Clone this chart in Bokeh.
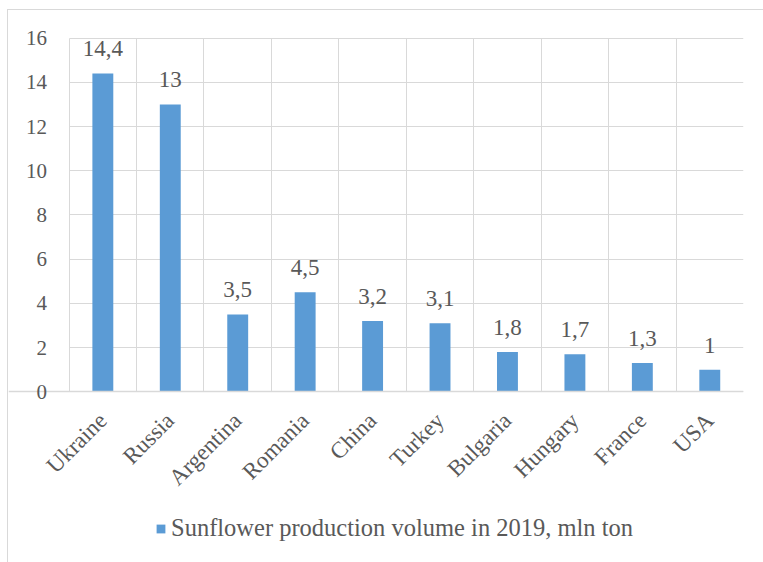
from bokeh.plotting import figure
from bokeh.models import (ColumnDataSource, Range1d, FixedTicker, Legend, LegendItem,
                          LabelSet, LinearAxis)
from bokeh.core.properties import value
from bokeh.embed import file_html
from bokeh.resources import INLINE
from math import pi

countries = ["Ukraine", "Russia", "Argentina", "Romania", "China", "Turkey",
             "Bulgaria", "Hungary", "France", "USA"]
values = [14.4, 13, 3.5, 4.5, 3.2, 3.1, 1.8, 1.7, 1.3, 1.0]
series_name = "Sunflower production volume in 2019, mln ton"
y_ticks = [0, 2, 4, 6, 8, 10, 12, 14, 16]

def fmt(v):
    s = ("%g" % v)
    return s.replace(".", ",")

FONT = "'Liberation Serif', 'Times New Roman', serif"
TXT = "#595959"
GRID = "#D9D9D9"
BAR = "#5B9BD5"

# layout (window pixels)
OX, OY = 7, 9            # chart-area offset inside the window
BW = 1.5                 # chart-area border width
FRAME_LEFT = OX + BW
FRAME_TOP = OY + BW
PLOT_LEFT, PLOT_RIGHT = 69, 742
PLOT_TOP, ZERO_Y, FRAME_BOTTOM = 38, 390, 552
Y_TOP = 16
N = len(countries)
px_y = (ZERO_Y - PLOT_TOP) / Y_TOP
px_x = (PLOT_RIGHT - PLOT_LEFT) / N
y_start = -(FRAME_BOTTOM - ZERO_Y) / px_y
y_end = Y_TOP + (PLOT_TOP - FRAME_TOP) / px_y
x_start = -(PLOT_LEFT - FRAME_LEFT) / px_x

xs = [i + 0.5 for i in range(N)]
src = ColumnDataSource(dict(x=xs, top=values, label=[fmt(v) for v in values]))

W, H = 763 - OX, 562 - OY
p = figure(width=W, height=H, x_range=Range1d(x_start, N),
           y_range=Range1d(y_start, y_end), output_backend="svg",
           toolbar_location=None, x_axis_location=None, y_axis_location=None,
           min_border_left=0, min_border_right=21,
           min_border_top=0, min_border_bottom=H - (FRAME_BOTTOM - OY) - 1)
p.styles = {"margin-left": f"{OX}px", "margin-top": f"{OY}px",
            "border-left": f"{BW}px solid {GRID}", "border-top": f"{BW}px solid {GRID}"}
p.border_fill_color = "white"
p.background_fill_color = "white"
p.outline_line_color = None

r = p.vbar(x="x", top="top", bottom=0, width=0.31, source=src,
           fill_color=BAR, line_color=None)

labels = LabelSet(x="x", y="top", text="label", source=src, text_align="center",
                  text_baseline="alphabetic", y_offset=17, text_font=value(FONT),
                  text_font_size=value("23px"), text_color=TXT)
p.add_layout(labels)

# y axis, drawn at x = 0
yaxis = LinearAxis(fixed_location=0, ticker=FixedTicker(ticks=y_ticks),
                   axis_line_color=None, major_tick_line_color=None,
                   minor_tick_line_color=None, major_label_text_font=FONT,
                   major_label_text_font_size="21px", major_label_text_color=TXT,
                   major_label_standoff=16)
p.add_layout(yaxis, "left")

# x axis, drawn at y = 0
xaxis = LinearAxis(fixed_location=0, ticker=FixedTicker(ticks=xs),
                   major_label_overrides={x: c for x, c in zip(xs, countries)},
                   major_label_orientation=pi / 4,
                   axis_line_color=GRID, axis_line_width=1.5,
                   major_tick_line_color=None, minor_tick_line_color=None,
                   major_label_text_font=FONT, major_label_text_font_size="23px",
                   major_label_text_color=TXT, major_label_standoff=19)
p.add_layout(xaxis, "below")

p.xgrid.ticker = FixedTicker(ticks=list(range(N + 1)))
p.xgrid.grid_line_color = GRID
p.xgrid.cross_bounds = (0, Y_TOP)
p.ygrid.ticker = FixedTicker(ticks=y_ticks)
p.ygrid.grid_line_color = GRID
p.ygrid.cross_bounds = (0, N)

legend = Legend(items=[LegendItem(label=series_name, renderers=[r])],
                location=(int(156 - FRAME_LEFT), 12), orientation="horizontal",
                label_text_font=FONT, label_text_font_size="24.5px",
                label_text_color=TXT, glyph_width=11, glyph_height=11,
                label_standoff=5, padding=0, margin=0,
                border_line_color=None, background_fill_alpha=0)
p.add_layout(legend, "center")

open("out.html", "w").write(file_html(p, INLINE))
